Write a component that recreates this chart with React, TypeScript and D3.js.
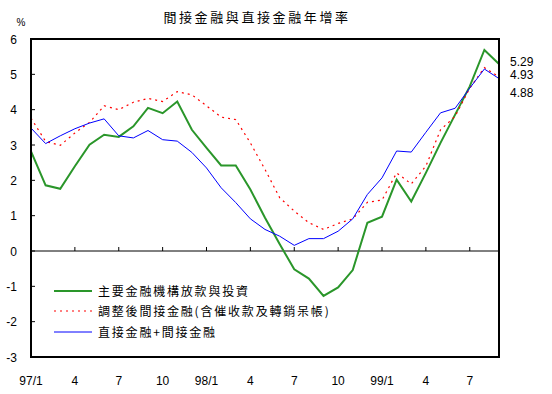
import React, { useEffect, useRef } from 'react';
import * as d3 from 'd3';

// 97/1 .. 99/9, monthly year-on-year growth (%)
const months = [
  '97/1', '97/2', '97/3', '97/4', '97/5', '97/6', '97/7', '97/8', '97/9', '97/10', '97/11', '97/12',
  '98/1', '98/2', '98/3', '98/4', '98/5', '98/6', '98/7', '98/8', '98/9', '98/10', '98/11', '98/12',
  '99/1', '99/2', '99/3', '99/4', '99/5', '99/6', '99/7', '99/8', '99/9',
];

const loans = [
  2.82, 1.86, 1.76, 2.4, 3.01, 3.29, 3.23, 3.53, 4.05, 3.9, 4.23, 3.43,
  2.92, 2.42, 2.42, 1.74, 0.94, 0.2, -0.52, -0.78, -1.27, -1.03, -0.54, 0.8,
  0.97, 2.02, 1.4, 2.21, 3.06, 3.86, 4.66, 5.69, 5.29,
];

const adjusted = [
  3.76, 3.1, 2.99, 3.34, 3.64, 4.11, 4.0, 4.21, 4.32, 4.23, 4.51, 4.42,
  4.11, 3.79, 3.72, 3.06, 2.31, 1.51, 1.13, 0.8, 0.61, 0.78, 0.91, 1.38,
  1.44, 2.21, 1.9, 2.4, 3.43, 3.81, 4.61, 5.19, 4.93,
];

const total = [
  3.48, 3.04, 3.26, 3.46, 3.62, 3.74, 3.26, 3.2, 3.41, 3.15, 3.11, 2.79,
  2.35, 1.79, 1.37, 0.91, 0.61, 0.42, 0.16, 0.35, 0.35, 0.56, 0.91, 1.6,
  2.07, 2.83, 2.8, 3.36, 3.91, 4.04, 4.61, 5.15, 4.88,
];

const tickLabels = ['97/1', '4', '7', '10', '98/1', '4', '7', '10', '99/1', '4', '7'];
const yTicks = [-3, -2, -1, 0, 1, 2, 3, 4, 5, 6];

const title = '間接金融與直接金融年增率';
const names = [
  '主要金融機構放款與投資',
  '調整後間接金融(含催收款及轉銷呆帳)',
  '直接金融+間接金融',
];

const cjk = '"Noto Sans CJK TC", "Noto Sans CJK SC", sans-serif';
const latin = '"Liberation Sans", Arial, sans-serif';

const Chart: React.FC = () => {
  const ref = useRef<SVGSVGElement | null>(null);

  useEffect(() => {
    const svg = d3.select(ref.current);
    const width = 552;
    const height = 394;
    const left = 31, right = 499, top = 39, bottom = 357;

    svg.selectAll('*').remove();
    svg.attr('width', width).attr('height', height).attr('viewBox', `0 0 ${width} ${height}`);

    svg.append('rect').attr('width', width).attr('height', height).attr('fill', '#fff');

    const x = d3.scaleLinear().domain([0, months.length - 1]).range([left, right]);
    const y = d3.scaleLinear().domain([-3, 6]).range([bottom, top]);

    // title
    svg.append('text')
      .attr('x', 257).attr('y', 22)
      .attr('text-anchor', 'middle')
      .attr('font-family', cjk).attr('font-size', 13)
      .attr('letter-spacing', 2.6)
      .text(title);

    // y axis ticks pointing inward
    svg.append('g')
      .selectAll('line')
      .data(yTicks)
      .join('line')
      .attr('x1', left).attr('x2', left + 4)
      .attr('y1', d => y(d)).attr('y2', d => y(d))
      .attr('stroke', '#000');

    svg.append('g')
      .selectAll('text')
      .data(yTicks)
      .join('text')
      .attr('x', 17).attr('y', d => y(d) + 4.5)
      .attr('text-anchor', 'end')
      .attr('font-family', latin).attr('font-size', 12)
      .text(d => String(d));

    svg.append('text')
      .attr('x', 21).attr('y', 26)
      .attr('text-anchor', 'middle')
      .attr('font-family', latin).attr('font-size', 10)
      .text('%');

    // zero line and quarter ticks
    svg.append('line')
      .attr('x1', left).attr('x2', right)
      .attr('y1', y(0)).attr('y2', y(0))
      .attr('stroke', '#000');

    const quarterIdx = tickLabels.map((_, i) => i * 3);
    svg.append('g')
      .selectAll('line')
      .data(quarterIdx.slice(1))
      .join('line')
      .attr('x1', d => x(d)).attr('x2', d => x(d))
      .attr('y1', y(0)).attr('y2', y(0) - 4)
      .attr('stroke', '#000');

    svg.append('g')
      .selectAll('text')
      .data(tickLabels)
      .join('text')
      .attr('x', (_, i) => x(i * 3))
      .attr('y', 385)
      .attr('text-anchor', 'middle')
      .attr('font-family', latin).attr('font-size', 12)
      .text(d => d);

    const line = d3.line<number>()
      .x((_, i) => x(i))
      .y(d => y(d));

    const series = [
      { values: loans, color: '#2a962a', w: 2, dash: null as string | null },
      { values: adjusted, color: '#ff0000', w: 1.2, dash: '2,4' },
      { values: total, color: '#0000ff', w: 1, dash: null },
    ];

    series.forEach(s => {
      svg.append('path')
        .datum(s.values)
        .attr('fill', 'none')
        .attr('stroke', s.color)
        .attr('stroke-width', s.w)
        .attr('stroke-dasharray', s.dash)
        .attr('d', line);
    });

    // frame
    svg.append('rect')
      .attr('x', left).attr('y', top)
      .attr('width', right - left).attr('height', bottom - top)
      .attr('fill', 'none')
      .attr('stroke', '#000')
      .attr('stroke-width', 2);

    // end value labels
    const endLabels = [
      { v: loans[loans.length - 1], y: 65.5 },
      { v: adjusted[adjusted.length - 1], y: 78.5 },
      { v: total[total.length - 1], y: 96.5 },
    ];
    svg.append('g')
      .selectAll('text')
      .data(endLabels)
      .join('text')
      .attr('x', 510).attr('y', d => d.y)
      .attr('font-family', latin).attr('font-size', 12)
      .text(d => d.v.toFixed(2));

    // legend
    const legendY = [291, 311, 332];
    series.forEach((s, i) => {
      svg.append('line')
        .attr('x1', 54).attr('x2', 92)
        .attr('y1', legendY[i]).attr('y2', legendY[i])
        .attr('stroke', s.color)
        .attr('stroke-width', s.w)
        .attr('stroke-dasharray', s.dash);
      svg.append('text')
        .attr('x', 98).attr('y', legendY[i] + 5)
        .attr('font-family', cjk).attr('font-size', 12)
        .attr('letter-spacing', 1.8)
        .text(names[i]);
    });
  }, []);

  return <svg ref={ref} style={{ position: 'absolute', left: 0, top: 0 }}></svg>;
};

export default function App() {
  return <Chart />;
}
